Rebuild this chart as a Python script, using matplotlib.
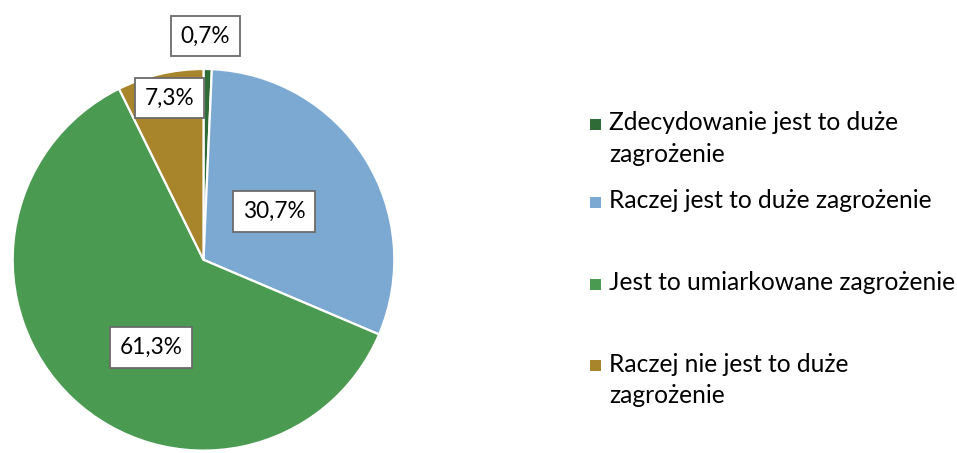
import matplotlib
matplotlib.use("Agg")
import matplotlib.pyplot as plt
from matplotlib.patches import Rectangle

categories = [
    "Zdecydowanie jest to duże\nzagrożenie",
    "Raczej jest to duże zagrożenie",
    "Jest to umiarkowane zagrożenie",
    "Raczej nie jest to duże\nzagrożenie",
]
values = [0.7, 30.7, 61.3, 7.3]
colors = ["#2E6B37", "#7BA9D2", "#4A9A51", "#A8842A"]

W, H = 957, 453
FONT = "Lato"
FS_LEG = 17.7
FS_LAB = 16.3

fig = plt.figure(figsize=(W / 100, H / 100), dpi=100)
ax = fig.add_axes([0, 0, 1, 1])

cx, cy, r = 203.5, H - 259.8, 190.8
ax.pie(values, colors=colors, startangle=90, counterclock=False,
       center=(cx, cy), radius=r,
       wedgeprops=dict(edgecolor="white", linewidth=1.6))
ax.set_xlim(0, W)
ax.set_ylim(0, H)
ax.set_aspect("equal", adjustable="box")
ax.axis("off")

# data label positions (pixel coords from top-left)
label_pos = [(205.5, 36), (274, 211.5), (151, 347.5), (169.5, 98)]
for v, (x, y) in zip(values, label_pos):
    txt = f"{v:.1f}".replace(".", ",") + "%"
    ax.text(x, H - y, txt, ha="center", va="center", fontsize=FS_LAB,
            family=FONT, color="black",
            bbox=dict(boxstyle="square,pad=0.42", facecolor="white",
                      edgecolor="#6b6b6b", linewidth=1.3))

# legend (manual)
marker_y = [124, 202.5, 284, 365.5]
for lab, col, my in zip(categories, colors, marker_y):
    ax.add_patch(Rectangle((590, H - my - 5.5), 11, 11, facecolor=col,
                           edgecolor="none"))
    ax.text(609, H - my + 13, lab, ha="left", va="top", fontsize=FS_LEG,
            family=FONT, color="black", linespacing=1.47)

fig.savefig("out.png", dpi=100)
